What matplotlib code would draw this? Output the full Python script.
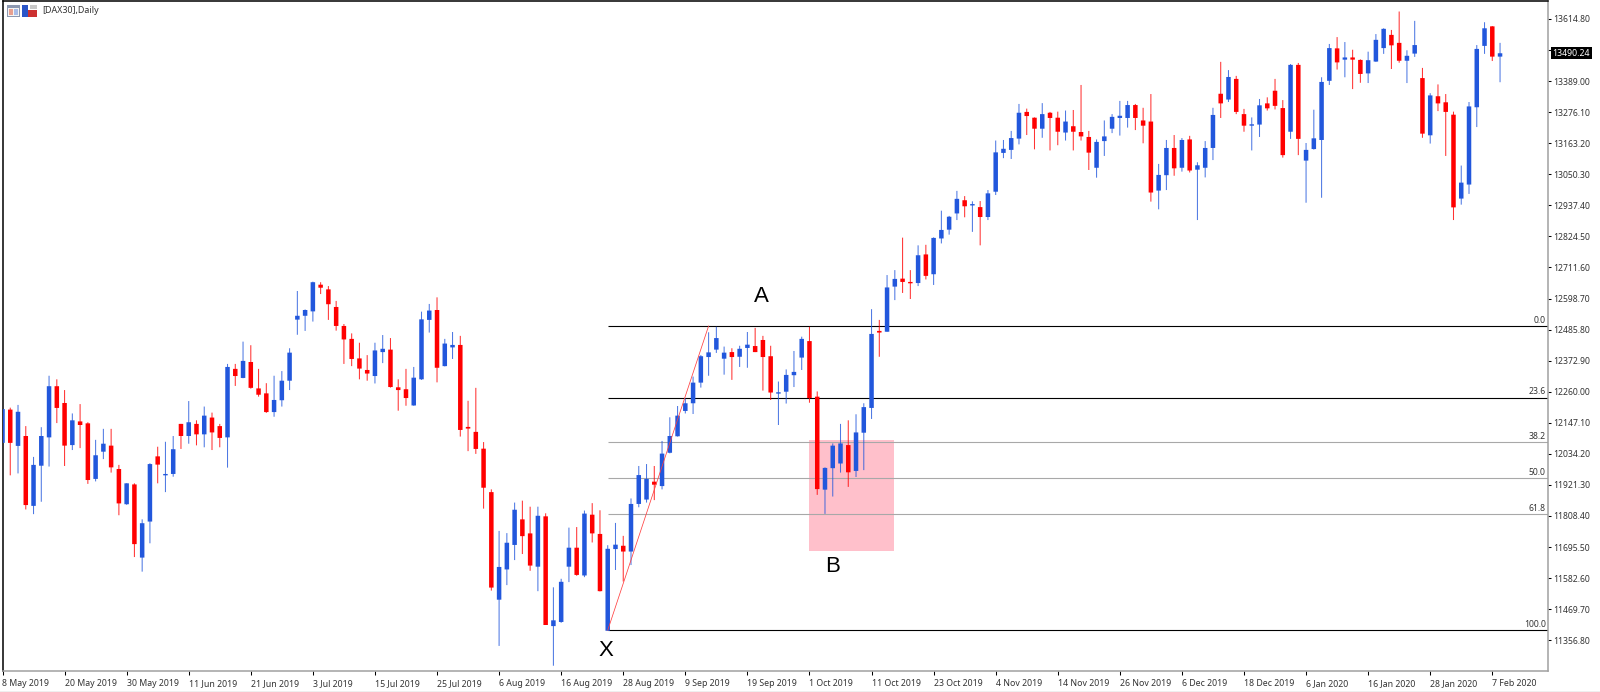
import matplotlib
matplotlib.use("Agg")
import matplotlib.pyplot as plt
from matplotlib.patches import Rectangle

# Daily DAX30 candles, oldest first
opens = [
    12074,12195,12063,12099,11845,11991,12094,12280,12219,12066,
    12152,12145,11943,12042,12064,11979,11851,11923,11657,11788,
    12025,11956,11961,12143,12099,12143,12105,12166,12135,12094,
    12343,12310,12368,12272,12254,12186,12229,12300,12522,12536,
    12552,12649,12632,12568,12499,12452,12381,12339,12317,12404,
    12413,12276,12269,12210,12305,12521,12557,12353,12421,12430,
    12132,12114,12053,11895,11504,11614,11703,11796,11745,11624,
    11807,11408,11423,11624,11693,11592,11813,11743,11391,11688,
    11700,11679,11852,11868,11933,11917,12038,12098,12190,12218,
    12293,12386,12413,12380,12404,12387,12419,12426,12448,12389,
    12253,12260,12320,12384,12444,12242,11904,11982,11999,12066,
    11972,12111,12201,12481,12478,12642,12671,12659,12655,12759,
    12687,12817,12849,12908,12956,12937,12931,12895,12987,13128,
    13139,13180,13277,13256,13216,13274,13256,13202,13225,13204,
    13186,13074,13171,13216,13255,13255,13302,13246,13242,12991,
    13047,13146,13074,13177,13067,13074,13146,13343,13322,13397,
    13269,13227,13231,13308,13354,13291,13205,13448,13100,13142,
    13175,13390,13508,13467,13475,13466,13417,13460,13509,13557,
    13528,13463,13489,13400,13192,13334,13312,13267,12962,13013,
    13294,13517,13588,13478,
]
highs = [
    12197,12202,12212,12135,12023,12131,12318,12305,12266,12181,
    12215,12149,12085,12125,12125,11994,11927,11927,11796,12000,
    12060,12078,12099,12143,12226,12156,12206,12184,12143,12361,
    12361,12442,12429,12343,12291,12318,12335,12418,12626,12559,
    12660,12658,12644,12590,12506,12472,12438,12393,12438,12466,
    12455,12305,12343,12350,12551,12579,12603,12452,12477,12463,
    12227,12274,12077,11905,11754,11746,11857,11864,11842,11842,
    11818,11549,11580,11766,11768,11828,11855,11829,11702,11783,
    11736,11872,11990,11997,11990,12081,12167,12208,12236,12315,
    12393,12476,12496,12424,12418,12427,12477,12492,12463,12427,
    12297,12341,12408,12460,12496,12261,11985,12072,12143,12156,
    12178,12218,12560,12521,12684,12702,12820,12702,12792,12794,
    12821,12918,12899,12990,12971,12952,12953,12993,13173,13175,
    13208,13306,13289,13257,13309,13277,13278,13282,13284,13375,
    13208,13177,13246,13269,13317,13317,13306,13292,13342,13088,
    13175,13193,13182,13190,13094,13171,13292,13459,13429,13408,
    13288,13257,13324,13330,13397,13320,13451,13455,13164,13285,
    13403,13524,13549,13531,13503,13468,13496,13560,13581,13575,
    13642,13501,13608,13437,13345,13377,13342,13278,13082,13313,
    13520,13603,13589,13528,
]
lows = [
    12074,11956,11963,11832,11815,11860,11988,12146,11990,12048,
    12055,11925,11934,12015,11966,11811,11849,11659,11606,11709,
    11927,11895,11951,12052,12071,12065,12058,12048,12058,11984,
    12281,12309,12271,12242,12183,12169,12206,12266,12467,12481,
    12515,12615,12521,12482,12361,12353,12305,12300,12290,12364,
    12275,12191,12209,12209,12303,12475,12294,12352,12379,12097,
    12044,12034,11835,11537,11336,11557,11648,11670,11609,11535,
    11412,11264,11420,11568,11591,11586,11712,11534,11391,11612,
    11570,11630,11840,11857,11866,11905,12036,12097,12181,12179,
    12275,12318,12401,12322,12303,12350,12347,12404,12264,12230,
    12139,12217,12277,12339,12220,11885,11816,11879,11966,11914,
    11950,11975,12161,12387,12478,12593,12619,12597,12644,12668,
    12648,12799,12831,12884,12894,12841,12792,12884,12975,13109,
    13106,13159,13193,13141,13183,13137,13156,13173,13137,13173,
    13066,13038,13117,13200,13191,13220,13211,13163,12951,12923,
    12993,13045,13060,13057,12884,13039,13102,13255,13313,13269,
    13205,13137,13186,13282,13286,13111,13179,13120,12947,13140,
    12965,13375,13431,13403,13360,13383,13382,13459,13488,13433,
    13456,13382,13477,13183,13162,13280,13117,12884,12940,12979,
    13222,13488,13462,13385,
]
closes = [
    12197,12074,12187,11848,11994,12099,12280,12201,12064,12156,
    12139,11939,12029,12071,11985,11854,11927,11706,11782,11997,
    11995,11961,12051,12099,12149,12105,12173,12112,12092,12350,
    12317,12372,12274,12249,12186,12230,12300,12402,12536,12557,
    12658,12638,12578,12499,12450,12379,12344,12326,12410,12416,
    12277,12266,12237,12311,12523,12555,12347,12435,12430,12121,
    12126,12052,11911,11548,11623,11711,11831,11735,11628,11809,
    11412,11429,11569,11693,11594,11817,11745,11535,11689,11704,
    11679,11852,11957,11943,11922,12035,12099,12173,12218,12293,
    12389,12403,12455,12402,12386,12416,12431,12404,12386,12257,
    12258,12321,12332,12452,12237,11906,11983,12064,12072,11967,
    12112,12204,12470,12475,12639,12670,12659,12654,12756,12681,
    12819,12848,12896,12961,12934,12942,12895,12981,13130,13143,
    13182,13274,13262,13216,13269,13255,13205,13242,13205,13188,
    13129,13168,13188,13259,13263,13302,13255,13227,12984,13048,
    13146,13072,13175,13064,13083,13146,13266,13308,13404,13277,
    13227,13232,13301,13290,13299,13120,13448,13179,13139,13181,
    13386,13509,13457,13475,13467,13415,13465,13539,13579,13519,
    13463,13481,13520,13198,13337,13308,13277,12930,13020,13297,
    13506,13581,13478,13490.24,
]

date_labels = ["8 May 2019", "20 May 2019", "30 May 2019", "11 Jun 2019", "21 Jun 2019",
               "3 Jul 2019", "15 Jul 2019", "25 Jul 2019", "6 Aug 2019", "16 Aug 2019",
               "28 Aug 2019", "9 Sep 2019", "19 Sep 2019", "1 Oct 2019", "11 Oct 2019",
               "23 Oct 2019", "4 Nov 2019", "14 Nov 2019", "26 Nov 2019", "6 Dec 2019",
               "18 Dec 2019", "6 Jan 2020", "16 Jan 2020", "28 Jan 2020", "7 Feb 2020"]
date_every = 8

price_ticks = [13614.80, 13501.90, 13389.00, 13276.10, 13163.20, 13050.30, 12937.40,
               12824.50, 12711.60, 12598.70, 12485.80, 12372.90, 12260.00, 12147.10,
               12034.20, 11921.30, 11808.40, 11695.50, 11582.60, 11469.70, 11356.80]

# Fibonacci retracement from swing low X to swing high A
swing_low = 11393
swing_high = 12499
swing_low_bar = 78
swing_high_bar = 91
fib_levels = [0.0, 23.6, 38.2, 50.0, 61.8, 100.0]
fib_colors = ["black", "black", "#a8a8a8", "#a8a8a8", "#a8a8a8", "black"]

# Retracement zone around point B
zone_bars = (103.9, 114.9)
zone_prices = (11682, 12083)

last_price = closes[-1]

UP = "#2257dc"
DOWN = "#ff0000"
FONT = "Noto Sans"

W, H = 1600, 692
fig = plt.figure(figsize=(W / 100, H / 100), dpi=100, facecolor="white")
left, right, top, bottom = 2.5, 1548.0, 0.5, 671.0
ax = fig.add_axes([left / W, 1 - bottom / H, (right - left) / W, (bottom - top) / H])
ax.set_xlim(0.01, 199.18)
ax.set_ylim(11244.8, 13682.0)

ax.spines["left"].set_color("black")
ax.spines["top"].set_color("black")
ax.spines["right"].set_color("#a0a0a0")
ax.spines["bottom"].set_color("#a0a0a0")
for side in ax.spines.values():
    side.set_linewidth(1.1)

# Zone and retracement levels sit behind the candles
ax.add_patch(Rectangle((zone_bars[0], zone_prices[0]), zone_bars[1] - zone_bars[0],
                       zone_prices[1] - zone_prices[0], facecolor="#ffc0cb",
                       edgecolor="none", zorder=1))
span = swing_high - swing_low
for level, color in zip(fib_levels, fib_colors):
    price = swing_high - span * level / 100
    ax.plot([swing_low_bar, 199.18], [price, price], color=color,
            lw=0.8, zorder=2, solid_capstyle="butt")
    ax.text(198.9, price + 5, f"{level:.1f}", ha="right", va="bottom",
            fontsize=6.2, family=FONT, color="#333333", zorder=6)

# Candles: wick first, body on top
for i, (o, h, l, c) in enumerate(zip(opens, highs, lows, closes)):
    color = UP if c >= o else DOWN
    wick = ax.vlines(i, l, h, color=color, lw=0.75, alpha=0.8, zorder=3)
    wick.set_snap(False)
    lo, hi = min(o, c), max(o, c)
    ax.add_patch(Rectangle((i - 0.29, lo), 0.58, max(hi - lo, 4), facecolor=color,
                           edgecolor="none", zorder=4, snap=False))

ax.plot([swing_low_bar, swing_high_bar], [swing_low, swing_high], color="#ff4040",
        lw=0.55, zorder=5)

for letter, bar, price in [("A", 97.8, 12605), ("B", 107.0, 11623), ("X", 77.8, 11318)]:
    ax.text(bar, price, letter, ha="center", va="center", fontsize=16,
            family="Liberation Sans", color="black", zorder=7)

# Axes furniture: time scale below, price scale to the right
ax.yaxis.tick_right()
ax.set_yticks(price_ticks)
ax.set_yticklabels([f"{p:.2f}" for p in price_ticks], fontsize=6.2, family=FONT, color="#333333")
ax.tick_params(axis="y", length=2.5, width=0.75, pad=1.5, color="black")
ax.set_xticks(range(0, len(date_labels) * date_every, date_every))
ax.set_xticklabels(date_labels, fontsize=6.3, family=FONT, color="#333333", ha="left")
ax.tick_params(axis="x", length=3, width=0.75, pad=2.5, color="black")

# Current price tag
ax.annotate(f"{last_price:.2f}", xy=(1.0, last_price), xycoords=("axes fraction", "data"),
            xytext=(3.2, 0), textcoords="offset points", ha="left", va="center",
            fontsize=6.3, family=FONT, fontweight="bold", color="white", annotation_clip=False,
            bbox=dict(boxstyle="square,pad=0.18", fc="black", ec="none"), zorder=10)


def header_box(x0, y0, x1, y1, color):
    """Small filled box for the window icons, given in figure pixels."""
    fig.add_artist(Rectangle((x0 / W, 1 - y1 / H), (x1 - x0) / W, (y1 - y0) / H,
                             transform=fig.transFigure, facecolor=color, edgecolor="none"))


header_box(7, 5, 20, 17, "#8d98b0")
header_box(8, 8, 19, 16, "#f4f4f4")
header_box(9, 9, 13, 15, "#e8a090")
header_box(14, 9, 18, 15, "#a8bce8")
header_box(22, 5, 28, 17, "#2a55c8")
header_box(28, 10, 37, 17, "#cc3030")
header_box(30, 5, 37, 9, "#c8c8c8")
fig.text(42 / W, 1 - 10.5 / H, "[DAX30],Daily", fontsize=6.4, family=FONT, color="#333333",
         ha="left", va="center")

# Status strip along the bottom of the window
fig.add_artist(Rectangle((0, 0), 1, 1.5 / H, transform=fig.transFigure,
                         facecolor="#efefef", edgecolor="none"))

fig.savefig("out.png", dpi=100)
